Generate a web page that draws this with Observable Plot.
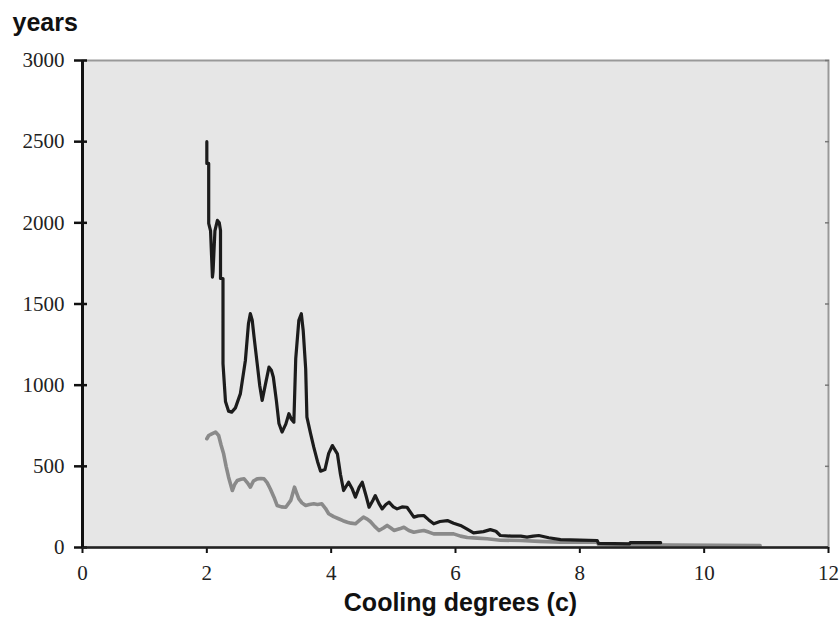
<!DOCTYPE html>
<html>
<head>
<meta charset="utf-8">
<script src="https://cdn.jsdelivr.net/npm/d3@7"></script>
<script src="https://cdn.jsdelivr.net/npm/@observablehq/plot@0.6"></script>
<style>
  html, body { margin: 0; padding: 0; background: #fff; }
</style>
</head>
<body>
<div id="chart"></div>
<script>
const xTicks = [0, 2, 4, 6, 8, 10, 12];
const yTicks = [0, 500, 1000, 1500, 2000, 2500, 3000];

const darkX = [2.00, 2.00, 2.03, 2.03, 2.06, 2.09, 2.10, 2.13, 2.17, 2.20, 2.22, 2.22, 2.26, 2.26, 2.30, 2.35, 2.40, 2.46, 2.54, 2.62, 2.67, 2.70, 2.73, 2.76, 2.81, 2.85, 2.89, 2.94, 3.00, 3.04, 3.07, 3.12, 3.16, 3.21, 3.27, 3.32, 3.36, 3.40, 3.43, 3.48, 3.52, 3.55, 3.59, 3.61, 3.67, 3.72, 3.78, 3.83, 3.90, 3.96, 4.02, 4.10, 4.15, 4.20, 4.28, 4.34, 4.39, 4.45, 4.50, 4.56, 4.61, 4.67, 4.71, 4.77, 4.82, 4.88, 4.93, 5.00, 5.06, 5.14, 5.22, 5.28, 5.33, 5.40, 5.49, 5.57, 5.65, 5.75, 5.87, 5.97, 6.08, 6.18, 6.29, 6.45, 6.56, 6.65, 6.72, 6.90, 7.05, 7.15, 7.25, 7.34, 7.50, 7.69, 8.00, 8.28, 8.30, 8.80, 8.81, 9.30];
const darkY = [2500, 2366, 2366, 1996, 1950, 1666, 1700, 1950, 2015, 2000, 1953, 1657, 1657, 1133, 900, 840, 834, 860, 948, 1152, 1380, 1441, 1400, 1296, 1133, 1000, 906, 1000, 1111, 1090, 1049, 900, 764, 711, 760, 824, 790, 772, 1163, 1399, 1440, 1337, 1101, 803, 700, 618, 530, 470, 480, 580, 628, 577, 450, 351, 402, 360, 310, 370, 402, 320, 248, 290, 320, 270, 238, 265, 279, 250, 238, 250, 248, 215, 187, 195, 197, 170, 146, 160, 166, 150, 136, 115, 90, 98, 110, 100, 74, 70, 70, 64, 70, 74, 60, 49, 45, 43, 25, 22, 30, 30];

const grayX = [2.00, 2.03, 2.08, 2.14, 2.19, 2.23, 2.27, 2.31, 2.35, 2.41, 2.45, 2.49, 2.55, 2.60, 2.65, 2.70, 2.75, 2.81, 2.87, 2.92, 2.97, 3.02, 3.08, 3.13, 3.20, 3.27, 3.35, 3.41, 3.44, 3.48, 3.53, 3.59, 3.65, 3.72, 3.78, 3.85, 3.91, 3.96, 4.04, 4.12, 4.19, 4.26, 4.32, 4.39, 4.45, 4.52, 4.58, 4.63, 4.70, 4.77, 4.84, 4.90, 4.96, 5.01, 5.10, 5.17, 5.25, 5.33, 5.41, 5.49, 5.57, 5.65, 5.80, 5.97, 6.08, 6.19, 6.35, 6.51, 6.72, 7.05, 7.35, 7.69, 8.28, 8.30, 8.81, 9.50, 10.20, 10.90];
const grayY = [670, 690, 700, 711, 690, 630, 577, 500, 433, 351, 390, 413, 420, 423, 400, 372, 410, 423, 425, 423, 400, 362, 310, 259, 250, 248, 290, 372, 340, 300, 275, 259, 265, 269, 265, 269, 240, 208, 190, 177, 165, 156, 150, 146, 165, 187, 175, 160, 130, 105, 120, 136, 120, 105, 115, 125, 105, 94, 100, 105, 95, 84, 84, 84, 70, 62, 58, 54, 45, 43, 38, 33, 33, 20, 18, 15, 13, 12];

const dark = darkX.map((x, i) => ({x, y: darkY[i]}));
const gray = grayX.map((x, i) => ({x, y: grayY[i]}));

const serif = "'Liberation Serif', 'DejaVu Serif', serif";
const sans = "'Liberation Sans', Arial, sans-serif";

const chart = Plot.plot({
  width: 840,
  height: 617,
  marginLeft: 82,
  marginRight: 12,
  marginTop: 60,
  marginBottom: 70,
  style: {background: "#fff", fontFamily: serif, fontSize: "21px", color: "#222"},
  x: {domain: [0, 12]},
  y: {domain: [0, 3000]},
  marks: [
    Plot.frame({fill: "#e6e6e6", stroke: "#999", strokeWidth: 2}),
    Plot.axisY(yTicks, {anchor: "right", tickSize: 4, dx: -4, tickFormat: () => "", stroke: "#777", strokeWidth: 1.5, label: null}),
    Plot.axisY(yTicks, {anchor: "left", tickSize: 13, dx: 5, tickFormat: () => "", stroke: "#111", strokeWidth: 2.5, label: null}),
    Plot.axisY(yTicks, {anchor: "left", tickSize: 0, tickPadding: 18, tickFormat: d => String(d), fontSize: 21, fontFamily: serif, fill: "#222", label: null}),
    Plot.axisX(xTicks, {anchor: "bottom", tickSize: 6, tickPadding: 12, tickFormat: d => String(d), fontSize: 21, fontFamily: serif, stroke: "#111", strokeWidth: 2, fill: "#222", label: null}),
    Plot.line(gray, {x: "x", y: "y", stroke: "#8a8a8a", strokeWidth: 3.6}),
    Plot.line(dark, {x: "x", y: "y", stroke: "#1c1c1c", strokeWidth: 3.2}),
    Plot.ruleY([0], {stroke: "#222", strokeWidth: 2.5}),
    Plot.ruleX([0], {stroke: "#111", strokeWidth: 3}),
    Plot.text(["years"], {text: d => d, frameAnchor: "top-left", dx: -70, dy: -30, textAnchor: "start", lineAnchor: "bottom", fontSize: 25, fontWeight: "bold", fontFamily: sans, fill: "#111"}),
    Plot.text(["Cooling degrees (c)"], {text: d => d, frameAnchor: "bottom", dx: 5, dy: 63, textAnchor: "middle", lineAnchor: "bottom", fontSize: 25, fontWeight: "bold", fontFamily: sans, fill: "#111"})
  ]
});
document.getElementById("chart").appendChild(chart);
</script>
</body>
</html>
